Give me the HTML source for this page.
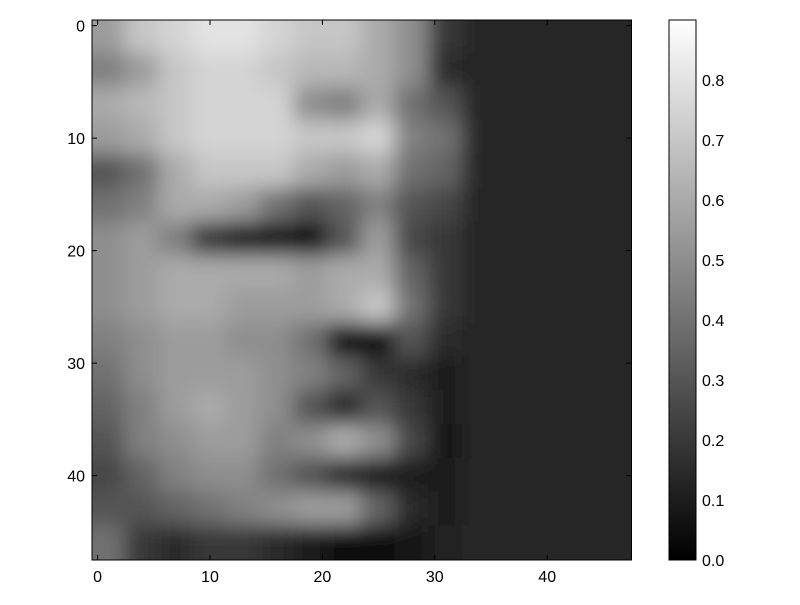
<!DOCTYPE html>
<html><head><meta charset="utf-8"><style>
html,body{margin:0;padding:0;background:#fff;}
text{font-family:"Liberation Sans",sans-serif;font-size:16px;fill:#000;}
</style></head><body>
<svg id="chart" width="800" height="600" xmlns="http://www.w3.org/2000/svg">
<defs>
<clipPath id="clip"><rect x="92" y="20" width="539.5" height="540"/></clipPath>
<filter id="blur" x="-10%" y="-10%" width="120%" height="120%"><feGaussianBlur stdDeviation="10"/></filter>
<linearGradient id="cbar" x1="0" y1="1" x2="0" y2="0">
<stop offset="0" stop-color="#000"/><stop offset="1" stop-color="#fff"/></linearGradient>
</defs>
<g id="cells" clip-path="url(#clip)"><rect x="92" y="20" width="540" height="540" fill="#242424"/><g id="cellsInner" filter="url(#blur)"></g></g>
<rect x="92" y="20" width="539.5" height="540" fill="none" stroke="#000"/>
<g id="axes"></g>
<rect x="669" y="20" width="27" height="540" fill="url(#cbar)" stroke="#000"/>
</svg>
<script>
const nData = 48, vmax = 0.9;
const gridStep = 3;
const xTicks = [0,10,20,30,40];
const yTicks = [0,10,20,30,40];
const cbTicks = [0.0,0.1,0.2,0.3,0.4,0.5,0.6,0.7,0.8];
const bg = 0.14;
const row0 =[0.55,0.7,0.75,0.8,0.8,0.75,0.7,0.7,0.6,0.5,0.2,bg,bg,bg,bg,bg];
const row1 =[0.45,0.55,0.7,0.75,0.75,0.7,0.65,0.65,0.6,0.5,0.15,bg,bg,bg,bg,bg];
const row2 =[0.6,0.65,0.7,0.75,0.75,0.75,0.5,0.45,0.6,0.4,0.3,bg,bg,bg,bg,bg];
const row3 =[0.55,0.6,0.7,0.75,0.75,0.75,0.7,0.7,0.75,0.45,0.4,bg,bg,bg,bg,bg];
const row4 =[0.3,0.4,0.6,0.7,0.7,0.7,0.6,0.55,0.6,0.4,0.35,bg,bg,bg,bg,bg];
const row5 =[0.4,0.45,0.6,0.6,0.55,0.4,0.3,0.35,0.45,0.3,0.25,bg,bg,bg,bg,bg];
const row6 =[0.5,0.55,0.45,0.2,0.1,0.08,0.05,0.3,0.55,0.25,0.2,bg,bg,bg,bg,bg];
const row7 =[0.5,0.55,0.6,0.6,0.6,0.6,0.55,0.6,0.6,0.35,0.2,bg,bg,bg,bg,bg];
const row8 =[0.5,0.55,0.6,0.6,0.55,0.55,0.55,0.6,0.7,0.4,0.2,bg,bg,bg,bg,bg];
const row9 =[0.45,0.5,0.55,0.55,0.5,0.5,0.4,0.05,0.05,0.3,0.15,bg,bg,bg,bg,bg];
const row10=[0.4,0.5,0.55,0.55,0.55,0.5,0.45,0.35,0.2,0.15,0.1,bg,bg,bg,bg,bg];
const row11=[0.35,0.45,0.55,0.6,0.55,0.5,0.3,0.15,0.3,0.2,0.1,bg,bg,bg,bg,bg];
const row12=[0.3,0.45,0.5,0.55,0.55,0.45,0.5,0.6,0.5,0.25,0.08,bg,bg,bg,bg,bg];
const row13=[0.25,0.35,0.45,0.5,0.5,0.4,0.3,0.15,0.1,0.1,0.1,bg,bg,bg,bg,bg];
const row14=[0.3,0.3,0.35,0.4,0.45,0.5,0.55,0.55,0.35,0.15,0.1,bg,bg,bg,bg,bg];
const row15=[0.4,0.2,0.15,0.2,0.2,0.15,0.1,0.05,0.05,0.08,0.12,bg,bg,bg,bg,bg];
const rows=[row0,row1,row2,row3,row4,row5,row6,row7,row8,row9,row10,row11,row12,row13,row14,row15];

const NS="http://www.w3.org/2000/svg";
const px0=92, py0=20, pw=539.5, ph=540;
const xs = d => px0 + (d+0.5)/nData*pw;
const ys = d => py0 + (d+0.5)/nData*ph;
const cs = v => 560 - v/0.9*540;
function el(t,a,p){const e=document.createElementNS(NS,t);for(const k in a)e.setAttribute(k,a[k]);p.appendChild(e);return e;}
const cellsG=document.getElementById('cellsInner');
const nR=rows.length;
rows.forEach((r,ri)=>r.forEach((v,ci)=>{
  const g=Math.round(Math.max(0,Math.min(1,v/vmax))*255);
  let x0=xs(ci*gridStep-0.5), y0=ys(ri*gridStep-0.5);
  let x1=xs((ci+1)*gridStep-0.5), y1=ys((ri+1)*gridStep-0.5);
  if(ci===0)x0-=30; if(ri===0)y0-=30;
  if(ci===r.length-1)x1+=30; if(ri===nR-1)y1+=30;
  const e=el('rect',{x:x0-1,y:y0-1,width:x1-x0+2,height:y1-y0+2,fill:`rgb(${g},${g},${g})`},cellsG);
  
  
}));
const ax=document.getElementById('axes');
xTicks.forEach(t=>{const x=xs(t);
  el('line',{x1:x,y1:560,x2:x,y2:555,stroke:'#000'},ax);
  el('line',{x1:x,y1:20,x2:x,y2:25,stroke:'#000'},ax);
  const tx=el('text',{x:x,y:582,'text-anchor':'middle'},ax);tx.textContent=t;
  
  
});
yTicks.forEach(t=>{const y=ys(t);
  el('line',{x1:92,y1:y,x2:97,y2:y,stroke:'#000'},ax);
  el('line',{x1:631.5,y1:y,x2:626.5,y2:y,stroke:'#000'},ax);
  const tx=el('text',{x:85,y:y+6,'text-anchor':'end'},ax);tx.textContent=t;
  
  
});
cbTicks.forEach(t=>{const y=cs(t);
  el('line',{x1:696,y1:y,x2:691,y2:y,stroke:'#000'},ax);
  el('line',{x1:669,y1:y,x2:674,y2:y,stroke:'#000'},ax);
  const tx=el('text',{x:702,y:y+6},ax);tx.textContent=t.toFixed(1);
  
  
});
</script>
</body></html>
